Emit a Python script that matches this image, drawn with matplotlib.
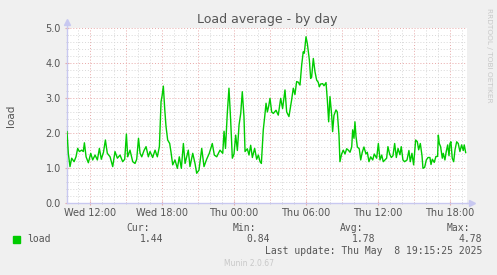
import matplotlib.pyplot as plt
from matplotlib.ticker import MultipleLocator, FixedLocator

# hours since Wed 00:00, load values
hours = [
    10.08, 10.19, 10.33, 10.47, 10.67, 10.83, 10.97, 11.11, 11.31, 11.44,
    11.53, 11.67, 11.86, 12.06, 12.22, 12.42, 12.61, 12.78, 12.94, 13.12,
    13.28, 13.44, 13.67, 13.89, 14.08, 14.28, 14.50, 14.72, 14.89, 15.03,
    15.14, 15.33, 15.56, 15.75, 15.89, 16.04, 16.17, 16.31, 16.50, 16.67,
    16.86, 17.00, 17.22, 17.42, 17.61, 17.78, 17.92, 18.00, 18.11, 18.23,
    18.33, 18.47, 18.64, 18.75, 18.89, 19.08, 19.28, 19.44, 19.61, 19.78,
    19.92, 20.19, 20.33, 20.56, 20.75, 20.89, 21.08, 21.31, 21.50, 21.72,
    21.94, 22.19, 22.36, 22.56, 22.83, 23.06, 23.17, 23.29, 23.44, 23.58,
    23.72, 23.86, 24.00, 24.14, 24.28, 24.42, 24.56, 24.69, 24.83, 24.92,
    25.11, 25.25, 25.39, 25.53, 25.72, 25.89, 26.03, 26.17, 26.28, 26.44,
    26.56, 26.67, 26.78, 26.88, 27.00, 27.14, 27.28, 27.50, 27.69, 27.89,
    28.05, 28.25, 28.39, 28.58, 28.80, 28.94, 29.08, 29.22, 29.36, 29.50,
    29.64, 29.77, 29.86, 30.00, 30.11, 30.28, 30.39, 30.47, 30.61, 30.75,
    30.89, 31.02, 31.11, 31.22, 31.39, 31.50, 31.67, 31.78, 31.89, 32.00,
    32.14, 32.22, 32.33, 32.50, 32.61, 32.75, 32.83, 32.97, 33.11, 33.25,
    33.39, 33.53, 33.67, 33.81, 33.89, 34.00, 34.08, 34.17, 34.28, 34.44,
    34.56, 34.69, 34.83, 35.00, 35.11, 35.25, 35.39, 35.56, 35.69, 35.89,
    36.03, 36.17, 36.31, 36.44, 36.58, 36.72, 36.83, 36.97, 37.11, 37.25,
    37.39, 37.53, 37.67, 37.83, 37.94, 38.08, 38.22, 38.42, 38.58, 38.69,
    38.83, 38.97, 39.14, 39.28, 39.39, 39.53, 39.67, 39.75, 39.89, 40.03,
    40.17, 40.33, 40.42, 40.53, 40.69, 40.83, 40.97, 41.03, 41.11, 41.22,
    41.36, 41.44, 41.58, 41.69, 41.81, 41.92, 42.00, 42.08, 42.19, 42.31,
    42.42, 42.56, 42.69, 42.83, 42.97, 43.11, 43.19, 43.31,
]
load = [
    2.04, 1.42, 1.04, 1.28, 1.18, 1.32, 1.56, 1.47, 1.51, 1.47,
    1.72, 1.32, 1.15, 1.42, 1.23, 1.37, 1.23, 1.56, 1.25, 1.45,
    1.80, 1.42, 1.32, 1.04, 1.47, 1.28, 1.37, 1.18, 1.25, 1.97,
    1.32, 1.51, 1.18, 1.13, 1.25, 1.85, 1.42, 1.32, 1.50, 1.61,
    1.32, 1.47, 1.30, 1.51, 1.32, 1.61, 2.90, 3.05, 3.34, 2.66,
    2.20, 1.80, 1.70, 1.45, 1.09, 1.23, 0.99, 1.32, 0.99, 1.70,
    1.13, 1.51, 1.04, 1.42, 1.13, 0.85, 0.94, 1.56, 1.04, 1.25,
    1.42, 1.70, 1.37, 1.32, 1.51, 1.42, 2.05, 1.56, 2.56, 3.28,
    2.37, 1.28, 1.40, 1.94, 1.50, 2.23, 2.56, 3.18, 2.47, 1.47,
    1.55, 1.37, 1.65, 1.30, 1.56, 1.25, 1.37, 1.18, 1.13, 2.09,
    2.47, 2.85, 2.60, 2.75, 2.99, 2.60, 2.56, 2.65, 2.51, 2.99,
    2.70, 3.23, 2.60, 2.47, 2.94, 3.28, 3.10, 3.47, 3.45, 3.37,
    3.94, 4.32, 4.28, 4.75, 4.56, 4.09, 3.56, 3.60, 4.13, 3.75,
    3.51, 3.45, 3.32, 3.40, 3.41, 3.35, 3.44, 2.94, 2.32, 3.04,
    2.51, 2.04, 2.50, 2.66, 2.60, 1.94, 1.18, 1.40, 1.51, 1.40,
    1.55, 1.51, 1.45, 1.60, 2.09, 1.85, 2.32, 1.90, 1.60, 1.55,
    1.23, 1.45, 1.60, 1.40, 1.45, 1.18, 1.32, 1.23, 1.40, 1.28,
    1.70, 1.23, 1.37, 1.18, 1.23, 1.28, 1.61, 1.40, 1.30, 1.35,
    1.70, 1.30, 1.56, 1.38, 1.61, 1.23, 1.18, 1.23, 1.50, 1.18,
    1.42, 1.09, 1.80, 1.75, 1.52, 1.70, 1.35, 0.99, 1.02, 1.23,
    1.30, 1.30, 1.10, 1.25, 1.16, 1.33, 1.33, 1.94, 1.70, 1.61,
    1.28, 1.42, 1.23, 1.47, 1.66, 1.35, 1.70, 1.75, 1.28, 1.18,
    1.52, 1.75, 1.70, 1.47, 1.66, 1.50, 1.66, 1.44,
]

tick_hours = [12, 18, 24, 30, 36, 42]
tick_labels = ["Wed 12:00", "Wed 18:00", "Thu 00:00", "Thu 06:00", "Thu 12:00", "Thu 18:00"]
stats_names = ["Cur:", "Min:", "Avg:", "Max:"]
stats_values = ["1.44", "0.84", "1.78", "4.78"]
x_range = (10.08, 43.42)

BG = "#f0f0f0"
AXIS = "#c8c8f0"
TXT = "#555555"
GREEN = "#00cc00"

fig = plt.figure(figsize=(4.97, 2.75), dpi=100, facecolor=BG)
ax = fig.add_axes([67 / 497, 72 / 275, 400 / 497, 175 / 275])
ax.set_facecolor("white")

ax.plot(hours, load, color=GREEN, lw=1.0, zorder=3)

ax.set_xlim(*x_range)
ax.set_ylim(0, 5)
ax.xaxis.set_major_locator(FixedLocator(tick_hours))
ax.set_xticklabels(tick_labels)
ax.xaxis.set_minor_locator(MultipleLocator(1))
ax.yaxis.set_major_locator(MultipleLocator(1))
ax.yaxis.set_minor_locator(MultipleLocator(0.2))
ax.set_yticklabels([f"{v:.1f}" for v in ax.get_yticks()])

# grid: minor grey, major red every 3 h / 1.0
for h in range(11, 44):
    col = "#e8a8a8" if h % 3 == 0 else "#d8d8d8"
    ax.axvline(h, color=col, lw=0.7, ls=(0, (1, 2)), zorder=1)
for i in range(1, 26):
    v = i * 0.2
    col = "#e8a8a8" if i % 5 == 0 else "#d8d8d8"
    ax.axhline(v, color=col, lw=0.7, ls=(0, (1, 2)), zorder=1)

for side in ["top", "right"]:
    ax.spines[side].set_visible(False)
for side in ["left", "bottom"]:
    ax.spines[side].set_color(AXIS)
    ax.spines[side].set_linewidth(1.0)

ax.tick_params(axis="both", which="major", length=3, color="#e8a8a8",
               labelsize=7, labelcolor=TXT, direction="inout", pad=2)
ax.tick_params(axis="both", which="minor", length=2, color="#c8c8c8", direction="inout")
ax.tick_params(axis="y", which="major", pad=3)

# axis arrows
ax.plot([0, 0], [1.0, 1.03], color=AXIS, lw=1.0, transform=ax.transAxes, clip_on=False)
ax.plot([0], [1.035], marker="^", ms=4, color=AXIS, transform=ax.transAxes, clip_on=False)
ax.plot([1.0, 1.0125], [0, 0], color=AXIS, lw=1.0, transform=ax.transAxes, clip_on=False)
ax.plot([1.0125], [0], marker=">", ms=4, color=AXIS, transform=ax.transAxes, clip_on=False)

ax.set_ylabel("load", fontsize=7.5, color=TXT)
ax.yaxis.set_label_coords(-51 / 400, 0.5)

fig.text(267 / 497, 1 - 19 / 275, "Load average - by day", ha="center", va="center",
         fontsize=9, color=TXT)
fig.text(489 / 497, 1 - 55 / 275, "RRDTOOL / TOBI OETIKER", rotation=270,
         ha="center", va="center", fontsize=5.3, color="#c8c8c8")

mono = "DejaVu Sans Mono"
fig.patches.append(plt.Rectangle((13 / 497, 1 - 242.5 / 275), 7 / 497, 7 / 275,
                                 transform=fig.transFigure, color=GREEN))
fig.text(27 / 497, 1 - 239 / 275, "load", family=mono, fontsize=7, color=TXT, va="center")
name_right = [150, 256, 363, 470]
value_right = [163, 270, 375, 482]
for n, v, nx, vx in zip(stats_names, stats_values, name_right, value_right):
    fig.text(nx / 497, 1 - 228 / 275, n, family=mono, fontsize=7, color=TXT,
             ha="right", va="center")
    fig.text(vx / 497, 1 - 239.5 / 275, v, family=mono, fontsize=7, color=TXT,
             ha="right", va="center")
fig.text(482 / 497, 1 - 251.5 / 275, "Last update: Thu May  8 19:15:25 2025",
         family=mono, fontsize=7, color=TXT, ha="right", va="center")
fig.text(249 / 497, 1 - 264 / 275, "Munin 2.0.67", fontsize=5.5, color="#c8c8c8",
         ha="center", va="center")

fig.savefig("out.png", dpi=100, facecolor=BG)
